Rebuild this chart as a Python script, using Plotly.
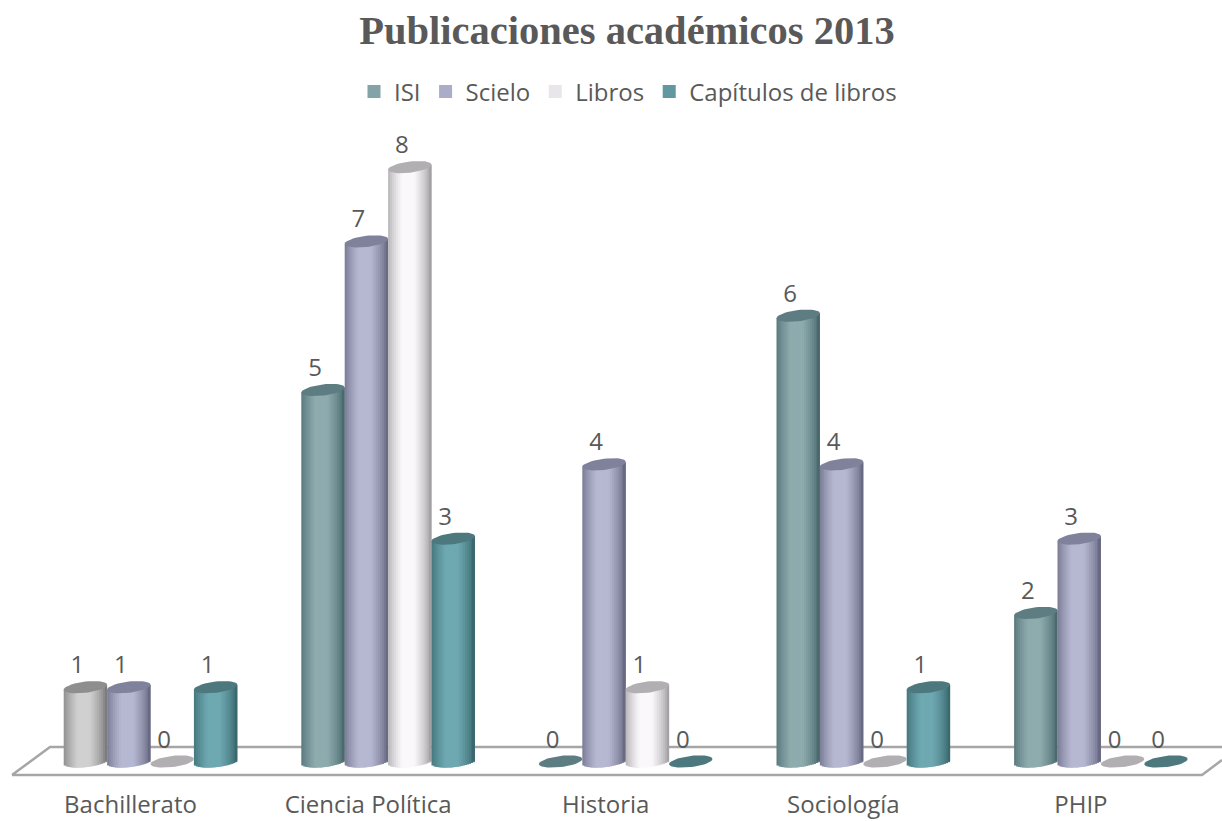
import math
import plotly.graph_objects as go

categories = ["Bachillerato", "Ciencia Política", "Historia", "Sociología", "PHIP"]
series_names = ["ISI", "Scielo", "Libros", "Capítulos de libros"]
isi = [1, 5, 0, 6, 2]
scielo = [1, 7, 4, 4, 3]
libros = [0, 8, 1, 0, 0]
capitulos = [1, 3, 0, 1, 0]
series_values = [isi, scielo, libros, capitulos]

W, H = 1222, 821
M_T, M_B = 120, 40
PX_ZERO, PX_UNIT = 761.5, 74.3
PX_CAT0, PX_CAT = 150.5, 237.6
y_top = (PX_ZERO - M_T) / PX_UNIT
y_bot = (PX_ZERO - (H - M_B)) / PX_UNIT
x_lo = -PX_CAT0 / PX_CAT
x_hi = (W - PX_CAT0) / PX_CAT

BAR_W = 43.4 / PX_CAT
A = BAR_W / 2
B = 5.6 / PX_UNIT
TILT = 2.5 / PX_UNIT
N = 22

# (edge, centre, top ellipse)
palette = [
    ((0x4a, 0x6a, 0x6e), (0x8e, 0xab, 0xae), "#5d7d82"),
    ((0x68, 0x69, 0x82), (0xb6, 0xb8, 0xd2), "#80819b"),
    ((0xa4, 0xa2, 0xa4), (0xfa, 0xf8, 0xfa), "#b1afb1"),
    ((0x3a, 0x68, 0x6e), (0x6e, 0xa8, 0xb1), "#4c787e"),
]
gray_first = ((0x7c, 0x7c, 0x7c), (0xd0, 0xd0, 0xd0), "#8e8e8e")
legend_colors = ["#83a3a6", "#abacc7", "#e8e6ea", "#6298a0"]


def shade(edge, centre, u):
    t = min(1.0, (1 - abs(u + 0.08)) / 0.72)
    t = max(0.0, t) ** 0.7
    c = [round(e + (m - e) * t) for e, m in zip(edge, centre)]
    return f"rgb({c[0]},{c[1]},{c[2]})"


fig = go.Figure()

for si, values in enumerate(series_values):
    for k in range(N):
        u = -1 + (2 * k + 1) / N
        arc = B * math.sqrt(max(0, 1 - u * u))
        base = [TILT * u - arc if v > 0 else None for v in values]
        heights = [v + arc if v > 0 else None for v in values]
        colors = []
        for ci in range(len(values)):
            p = gray_first if (si == 0 and ci == 0) else palette[si]
            colors.append(shade(p[0], p[1], u))
        fig.add_trace(go.Bar(
            x=list(range(len(values))), y=heights, base=base,
            offset=(si - 2) * BAR_W + (k / N) * BAR_W,
            width=BAR_W / N * (2 if k < N - 1 else 1),
            marker=dict(color=colors, line=dict(width=0)),
            showlegend=False, hoverinfo="skip",
        ))

for si, values in enumerate(series_values):
    for ci, v in enumerate(values):
        p = gray_first if (si == 0 and ci == 0) else palette[si]
        cx = ci + (si - 1.5) * BAR_W
        ts = [2 * math.pi * i / 48 for i in range(49)]
        fig.add_trace(go.Scatter(
            x=[cx + A * math.cos(t) for t in ts],
            y=[v + B * math.sin(t) + TILT * math.cos(t) for t in ts],
            mode="lines", fill="toself", fillcolor=p[2],
            line=dict(width=0), showlegend=False, hoverinfo="skip",
        ))

for si, values in enumerate(series_values):
    fig.add_trace(go.Scatter(
        x=[ci + (si - 1.5) * BAR_W - 8 / PX_CAT for ci in range(len(values))],
        y=[v + 20 / PX_UNIT for v in values],
        mode="text", text=[str(v) for v in values],
        textposition="middle center",
        textfont=dict(family="Open Sans", size=24, color="#595959"),
        showlegend=False, hoverinfo="skip",
    ))

for name, col in zip(series_names, legend_colors):
    fig.add_trace(go.Scatter(
        x=[None], y=[None], mode="markers", name=name,
        marker=dict(symbol="square", size=13, color=col),
    ))


def fx(p):
    return p / W


def fy(p):
    return 1 - (p - M_T) / (H - M_T - M_B)


fig.add_shape(
    type="path", xref="paper", yref="paper", layer="below",
    path=(f"M {fx(12)} {fy(775)} L {fx(50)} {fy(747)} L {fx(1222)} {fy(747)} "
          f"M {fx(12)} {fy(775)} L {fx(1202)} {fy(775)} L {fx(1222)} {fy(760)}"),
    line=dict(color="#a6a6a6", width=2.5),
)

fig.update_layout(
    width=W, height=H, autosize=False,
    margin=dict(l=0, r=0, t=M_T, b=M_B, pad=0, autoexpand=False),
    paper_bgcolor="white", plot_bgcolor="white",
    barmode="overlay", hovermode=False,
    title=dict(
        text="<b>Publicaciones académicos 2013</b>",
        x=627 / W, y=1 - 30 / H, xref="paper", yref="container",
        xanchor="center", yanchor="middle",
        font=dict(family="Liberation Serif", size=40.5, color="#595959"),
    ),
    legend=dict(
        orientation="h", x=628 / W, xanchor="center",
        y=fy(92), yanchor="middle",
        font=dict(family="Open Sans", size=24, color="#595959"),
        bgcolor="rgba(0,0,0,0)", tracegroupgap=0,
    ),
    xaxis=dict(
        range=[x_lo, x_hi], tickmode="array",
        tickvals=[i - 20 / PX_CAT for i in range(len(categories))], ticktext=categories,
        showgrid=False, zeroline=False, showline=False, automargin=False,
        ticks="outside", ticklen=2, tickcolor="rgba(0,0,0,0)",
        tickfont=dict(family="Open Sans", size=24, color="#595959"),
    ),
    yaxis=dict(range=[y_bot, y_top], visible=False, automargin=False),
    showlegend=True,
)

fig.write_html(
    "out.html",
    config={"displayModeBar": False},
    post_script="document.body.style.margin='0';document.documentElement.style.overflow='hidden';",
)
